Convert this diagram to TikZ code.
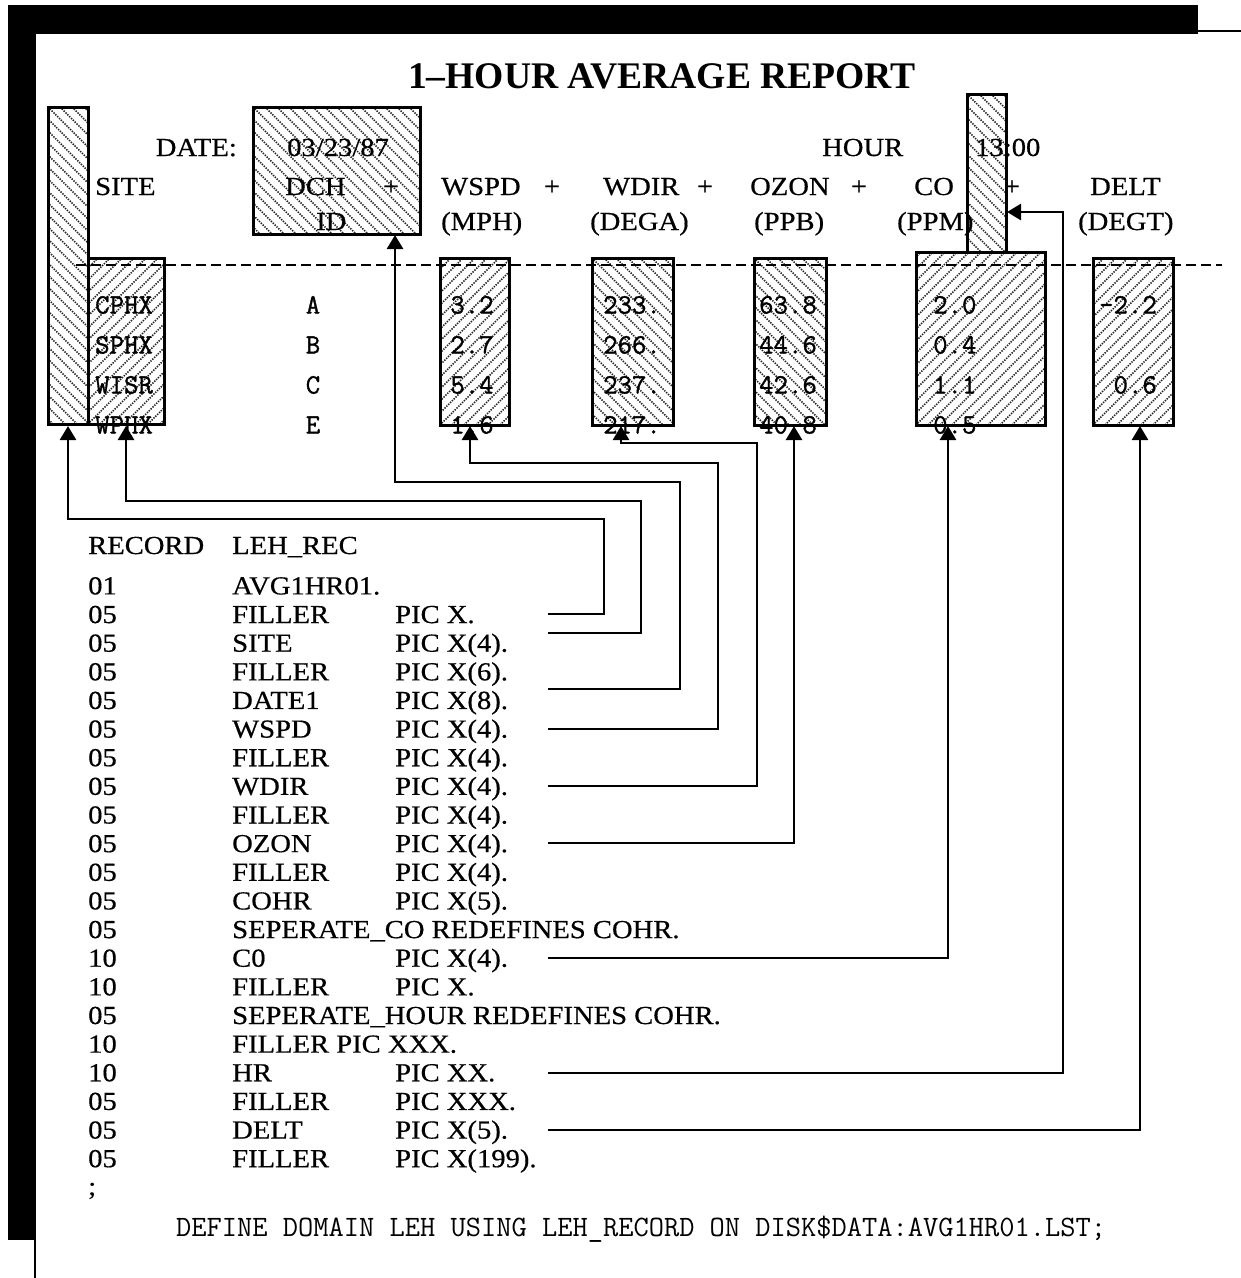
\documentclass[tikz,border=0pt]{standalone}
\usepackage{fontspec}
\setmainfont[FakeStretch=1.1,FakeBold=0.5]{Liberation Serif}
\newfontfamily\titlefont{Liberation Serif}
\newfontfamily\datafont[FakeBold=1.2]{Latin Modern Mono}
\usetikzlibrary{arrows.meta}
\newcommand\crow[4]{%
  \pgfmathsetmacro\crowy{594.4+#1*28.64}%
  \node[ser, anchor=base west] (lv#1) at (88,\crowy) {#2};%
  \node[ser, anchor=base west] (nm#1) at (232,\crowy) {#3};%
  \node[ser, anchor=base west] (pc#1) at (395,\crowy) {#4};}
\newcommand\crowb[3]{%
  \pgfmathsetmacro\crowy{594.4+#1*28.64}%
  \node[ser, anchor=base west] (lv#1) at (88,\crowy) {#2};%
  \node[ser, anchor=base west] (nm#1) at (232,\crowy) {#3};}
\begin{document}
\begin{tikzpicture}[x=1pt,y=-1pt,
  ser/.style={font=\fontsize{26}{30}\selectfont, inner sep=0pt},
  mono/.style={font=\datafont\fontsize{28}{32}\selectfont, inner sep=0pt},
  titlestyle/.style={font=\titlefont\bfseries\fontsize{37.6}{40}\selectfont, inner sep=0pt},
  hl/.style={line width=1.5pt, dash pattern=on 1.4pt off 1.2pt, black!85},
  hatchNE/.style={path picture={\foreach \k in {-348,-336,...,180}{\draw[hl] ([xshift=\k pt]path picture bounding box.south west) -- ++(420pt,420pt);}}},
  hatchNW/.style={path picture={\foreach \k in {-348,-336,...,180}{\draw[hl] ([xshift=\k pt]path picture bounding box.north west) -- ++(420pt,-420pt);}}},
  fbox/.style={draw, line width=3pt, inner sep=0pt, outer sep=0pt, anchor=north west},
  dashline/.style={line width=1.8pt, dash pattern=on 10pt off 5pt},
  conn/.style={line width=2.6pt, -{Triangle[width=16pt,length=14pt]}}
]
\useasboundingbox (0,0) rectangle (1241,1278);
% frame
\fill[black] (8,5) rectangle (1198,34);
\fill[black] (8,5) rectangle (36,1240);
\draw[line width=1.5pt] (1198,31) -- (1241,31);
\draw[line width=1.5pt] (35,1240) -- (35,1278);

% hatched boxes
\node[fbox, hatchNW, minimum width=40pt, minimum height=317pt] (siteid) at (48,107) {};
\node[fbox, hatchNE, minimum width=76pt, minimum height=166pt] (sitedata) at (88,258) {};
\node[fbox, hatchNW, minimum width=167pt, minimum height=127pt] (dch) at (253,107) {};
\node[fbox, hatchNE, minimum width=69pt, minimum height=167pt] (wspd) at (440,258) {};
\node[fbox, hatchNW, minimum width=81pt, minimum height=167pt] (wdir) at (592,258) {};
\node[fbox, hatchNW, minimum width=72pt, minimum height=167pt] (ozon) at (754,258) {};
\node[fbox, hatchNE, minimum width=129pt, minimum height=173pt] (co) at (916,252) {};
\node[fbox, hatchNW, minimum width=39pt, minimum height=158pt] (hour) at (967,94) {};
\node[fbox, hatchNE, minimum width=80pt, minimum height=167pt] (delt) at (1093,258) {};

% title and headers
\node[titlestyle, anchor=base] (title) at (662,88) {1–HOUR AVERAGE REPORT};
\node[ser, anchor=base east] (datelbl) at (237,156) {DATE:};
\node[ser, anchor=base west] (dateval) at (287,156) {03/23/87};
\node[ser, anchor=base west] (hourlbl) at (822,156) {HOUR};
\node[ser, anchor=base west] (hourval) at (975,156) {13:00};
\node[ser, anchor=base west] (hsite) at (95,195) {SITE};
\node[ser, anchor=base west] (hdch) at (285,195) {DCH};
\node[ser, anchor=base] (p1) at (391,195) {+};
\node[ser, anchor=base west] (hwspd) at (441,195) {WSPD};
\node[ser, anchor=base] (p2) at (552,195) {+};
\node[ser, anchor=base west] (hwdir) at (603,195) {WDIR};
\node[ser, anchor=base] (p3) at (705,195) {+};
\node[ser, anchor=base west] (hozon) at (750,195) {OZON};
\node[ser, anchor=base] (p4) at (859,195) {+};
\node[ser, anchor=base west] (hco) at (914,195) {CO};
\node[ser, anchor=base] (p5) at (1012,195) {+};
\node[ser, anchor=base west] (hdelt) at (1090,195) {DELT};
\node[ser, anchor=base west] (hid) at (316,230) {ID};
\node[ser, anchor=base west] (umph) at (441,230) {(MPH)};
\node[ser, anchor=base west] (udega) at (590,230) {(DEGA)};
\node[ser, anchor=base west] (uppb) at (754,230) {(PPB)};
\node[ser, anchor=base west] (uppm) at (897,230) {(PPM)};
\node[ser, anchor=base west] (udegt) at (1078,230) {(DEGT)};

% data rows
\foreach \r/\y/\s/\l/\w/\d/\o/\c in {
  1/313.5/CPHX/A/3.2/233./63.8/2.0,
  2/353.5/SPHX/B/2.7/266./44.6/0.4,
  3/393.5/WISR/C/5.4/237./42.6/1.1,
  4/433.5/WPHX/E/1.6/217./40.8/0.5}{
  \node[mono, anchor=base west] (ds\r) at (95,\y) {\s};
  \node[mono, anchor=base] (dl\r) at (313,\y) {\l};
  \node[mono, anchor=base] (dw\r) at (472,\y) {\w};
  \node[mono, anchor=base] (dd\r) at (632,\y) {\d};
  \node[mono, anchor=base] (do\r) at (788,\y) {\o};
  \node[mono, anchor=base west] (dc\r) at (933,\y) {\c};
}
\node[mono, anchor=base east] (dt1) at (1157,313.5) {-2.2};
\node[mono, anchor=base east] (dt3) at (1157,393.5) {0.6};

% dashed line
\coordinate (dla) at (76,265);
\coordinate (dlb) at (1222,265);
\draw[dashline] (dla) -- (dlb);

% record definition
\node[ser, anchor=base west] (rec) at (88,554) {RECORD};
\node[ser, anchor=base west] (recn) at (232,554) {LEH\_REC};
\crowb{0}{01}{AVG1HR01.}
\crow{1}{05}{FILLER}{PIC X.}
\crow{2}{05}{SITE}{PIC X(4).}
\crow{3}{05}{FILLER}{PIC X(6).}
\crow{4}{05}{DATE1}{PIC X(8).}
\crow{5}{05}{WSPD}{PIC X(4).}
\crow{6}{05}{FILLER}{PIC X(4).}
\crow{7}{05}{WDIR}{PIC X(4).}
\crow{8}{05}{FILLER}{PIC X(4).}
\crow{9}{05}{OZON}{PIC X(4).}
\crow{10}{05}{FILLER}{PIC X(4).}
\crow{11}{05}{COHR}{PIC X(5).}
\crowb{12}{05}{SEPERATE\_CO REDEFINES COHR.}
\crow{13}{10}{C0}{PIC X(4).}
\crow{14}{10}{FILLER}{PIC X.}
\crowb{15}{05}{SEPERATE\_HOUR REDEFINES COHR.}
\crowb{16}{10}{FILLER PIC XXX.}
\crow{17}{10}{HR}{PIC XX.}
\crow{18}{05}{FILLER}{PIC XXX.}
\crow{19}{05}{DELT}{PIC X(5).}
\crow{20}{05}{FILLER}{PIC X(199).}
\node[ser, anchor=base west] (semi) at (88,1195) {;};
\node[font=\ttfamily\fontsize{29.6}{33}\selectfont, inner sep=0pt, anchor=base west] (define) at (176,1236) {DEFINE DOMAIN LEH USING LEH\_RECORD ON DISK\$DATA:AVG1HR01.LST;};

% connectors
\coordinate (st1) at (548,614);
\coordinate (st2) at (548,633);
\coordinate (st3) at (548,689);
\coordinate (st4) at (548,729);
\coordinate (st5) at (548,786);
\coordinate (st6) at (548,843);
\coordinate (st7) at (548,958);
\coordinate (st8) at (548,1073);
\coordinate (st9) at (548,1130);
\coordinate (t1) at (68,426);
\coordinate (t2) at (126,426);
\coordinate (t3) at (395,235);
\coordinate (t4) at (470,426);
\coordinate (t5) at (621,426);
\coordinate (t6) at (794,426);
\coordinate (t7) at (948,426);
\coordinate (t8) at (1007,212);
\coordinate (t9) at (1140,426);
\draw[conn] (st1) -| (604,519) -| (t1);
\draw[conn] (st2) -| (641,501) -| (t2);
\draw[conn] (st3) -| (680,482) -| (t3);
\draw[conn] (st4) -| (718,463) -| (t4);
\draw[conn] (st5) -| (757,443) -| (t5);
\draw[conn] (st6) -| (t6);
\draw[conn] (st7) -| (t7);
\draw[conn] (st8) -| (1063,212) -- (t8);
\draw[conn] (st9) -| (t9);
\end{tikzpicture}
\end{document}
